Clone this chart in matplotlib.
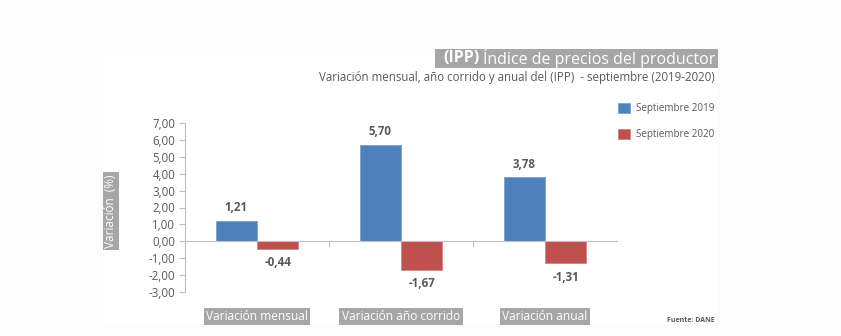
import matplotlib.pyplot as plt
import matplotlib.patches as mpatches
import matplotlib.transforms as mtransforms
import numpy as np

plt.rcParams['font.family'] = ['Open Sans', 'DejaVu Sans']

categorias = ['Variación mensual', 'Variación año corrido', 'Variación anual']
sep_2019 = [1.21, 5.70, 3.78]
sep_2020 = [-0.44, -1.67, -1.31]
series = ['Septiembre 2019', 'Septiembre 2020']
yticks = [-3, -2, -1, 0, 1, 2, 3, 4, 5, 6, 7]

azul = '#4f81bd'
rojo = '#c0504d'
gris = '#595959'
caja = '#a6a6a6'

W, H = 841, 336
fig = plt.figure(figsize=(W / 100, H / 100), dpi=100, facecolor='#fcfcfc')

def fx(px):
    return px / W

def fy(py):
    return 1 - py / H

# panel blanco detras del grafico
fig.patches.append(mpatches.Rectangle((fx(104), fy(324)), fx(717) - fx(104), fy(49) - fy(324),
                                      transform=fig.transFigure, facecolor='white',
                                      edgecolor='none', zorder=-5))

ax = fig.add_axes([fx(185), fy(292), fx(617) - fx(185), fy(123) - fy(292)])
ax.set_facecolor('none')
ax.set_zorder(2)

x = np.arange(len(categorias))
w = 0.288
b1 = ax.bar(x - w / 2, sep_2019, w, color=azul, edgecolor='#7aa0d0', linewidth=0.6, label=series[0])
b2 = ax.bar(x + w / 2, sep_2020, w, color=rojo, edgecolor='#d08482', linewidth=0.6, label=series[1])

for rects, vals in ((b1, sep_2019), (b2, sep_2020)):
    for r, v in zip(rects, vals):
        off = 9.5 if v >= 0 else -10
        ax.annotate(f'{v:.2f}'.replace('.', ','), (r.get_x() + r.get_width() / 2, v),
                    xytext=(0, off), textcoords='offset points', ha='center', va='center',
                    fontsize=8.3, fontweight='bold', color=gris)

ax.set_xlim(-0.5, 2.5)
ax.set_ylim(-3, 7)
ax.set_yticks(yticks)
ax.set_yticklabels([f'{t:.2f}'.replace('.', ',') for t in yticks])
ax.tick_params(axis='y', colors='#bfbfbf', labelcolor=gris, labelsize=8.3, length=4, width=0.8, pad=3)

# eje x en el cero con marcas entre categorias
ax.spines['bottom'].set_position(('data', 0))
ax.spines['bottom'].set_color('#bfbfbf')
ax.spines['left'].set_color('#bfbfbf')
ax.spines['top'].set_visible(False)
ax.spines['right'].set_visible(False)
ax.set_xticks([0.5, 1.5])
ax.set_xticklabels([])
ax.tick_params(axis='x', colors='#bfbfbf', length=4, width=0.8, direction='out')

# etiquetas de categoria en cajas grises
trans = mtransforms.blended_transform_factory(ax.transData, ax.transAxes)
for xi, cat in zip(x, categorias):
    ax.text(xi, -0.145, cat, transform=trans, ha='center', va='center', fontsize=8.6,
            color='white', bbox=dict(boxstyle='square,pad=0.2', facecolor=caja, edgecolor='none'),
            clip_on=False)

# titulo en caja gris
fig.patches.append(mpatches.Rectangle((fx(435), fy(68)), fx(718) - fx(435), fy(49) - fy(68),
                                      transform=fig.transFigure, facecolor=caja,
                                      edgecolor='none', zorder=1))
t_main = fig.text(fx(715), fy(58.5), 'Índice de precios del productor', ha='right', va='center',
                  fontsize=11.5, color='white', zorder=2)
fig.canvas.draw()
bb = t_main.get_window_extent()
fig.text(bb.x0 / W - fx(3), fy(58.5), '(IPP)', ha='right', va='center', fontsize=11.5,
         fontweight='bold', color='white', zorder=2)

fig.text(fx(715), fy(77), 'Variación mensual, año corrido y anual del (IPP)  - septiembre (2019-2020)',
         ha='right', va='center', fontsize=8.3, color=gris)

# eje y
fig.text(fx(111), fy(211), 'Variación  (%)', rotation=90, ha='center', va='center', fontsize=8.5,
         color='white', bbox=dict(boxstyle='square,pad=0.15', facecolor=caja, edgecolor='none'))

fig.legend(handles=[b1, b2], labels=series, loc='upper left',
           bbox_to_anchor=(fx(609), fy(94)), frameon=False, fontsize=7.1,
           handlelength=1.25, handleheight=1.25, handletextpad=0.55, labelspacing=1.45,
           labelcolor=gris)

fig.text(fx(715), fy(321), 'Fuente: DANE', ha='right', va='center', fontsize=5,
         fontweight='bold', color=gris)

fig.savefig('out.png', dpi=100, facecolor=fig.get_facecolor())
